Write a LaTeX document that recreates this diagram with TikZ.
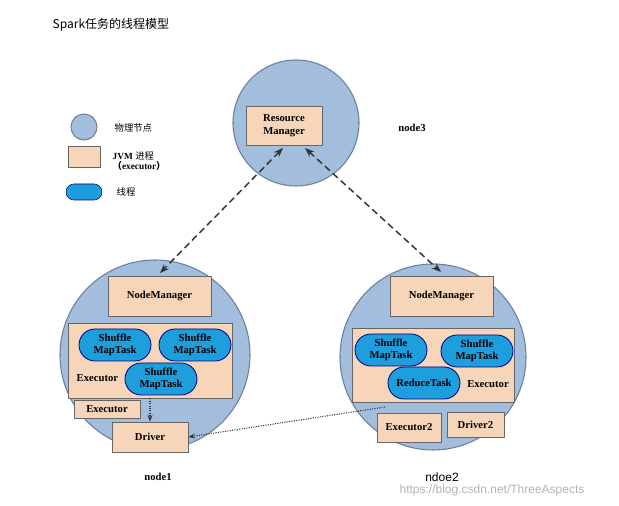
\documentclass[tikz,border=0pt]{standalone}
\usepackage{fontspec}
\setmainfont{Liberation Serif}
\newfontfamily\cjk{Noto Sans CJK SC}
\newfontfamily\sans{Liberation Sans}
\usetikzlibrary{arrows.meta,shapes.misc}
\definecolor{phys}{HTML}{A3BEDC}
\definecolor{jvm}{HTML}{F6D5B8}
\definecolor{thr}{HTML}{1F9EDD}
\definecolor{cb}{HTML}{6C7FA0}
\begin{document}
\begin{tikzpicture}[x=0.75pt,y=-0.75pt,
  phy/.style={circle,draw=cb,fill=phys,line width=0.8pt,inner sep=0pt},
  box/.style={draw=gray!80!black,fill=jvm,line width=0.6pt,font=\bfseries\footnotesize,align=center,inner sep=0pt},
  th/.style={rounded rectangle,draw=blue!50!black,fill=thr,line width=0.6pt,font=\bfseries\footnotesize,align=center,inner sep=0pt,minimum width=54pt,minimum height=24pt},
  lbl/.style={font=\bfseries\footnotesize},
  da/.style={dash pattern=on 5pt off 3pt,line width=1.1pt,gray!40!black,{Stealth[length=7pt]}-{Stealth[length=7pt]}},
  dt/.style={densely dotted,line width=0.8pt,gray!40!black,-{Stealth[length=5pt]}}]
\useasboundingbox (0,0) rectangle (619,506);
\node[anchor=west,font=\cjk\small] (title) at (48,25) {Spark任务的线程模型};
% legend
\node[phy,minimum size=26*0.75pt] (lc) at (84,127) {};
\node[anchor=west,font=\cjk\scriptsize] (lct) at (110,128) {物理节点};
\node[box,minimum width=24pt,minimum height=16pt] (lb) at (84,157) {};
\node[anchor=west,font=\scriptsize,align=left] (lbt) at (108,161) {\textbf{JVM} {\cjk 进程}\\\textbf{{\cjk（}executor{\cjk）}}};
\node[rounded rectangle,draw=blue!50!black,fill=thr,minimum width=27pt,minimum height=12pt,inner sep=0pt] (lo) at (84,192) {};
\node[anchor=west,font=\cjk\scriptsize] (lot) at (112,192) {线程};
% circles
\node[phy,minimum size=126*0.75pt] (c3) at (296,123) {};
\node[phy,minimum size=190*0.75pt] (c1) at (155,355) {};
\node[phy,minimum size=186*0.75pt] (c2) at (433,357) {};
% node3
\node[box,minimum width=76*0.75pt,minimum height=39*0.75pt] (rm) at (284,126) {Resource\\Manager};
\node[lbl] (n3) at (412,128) {node3};
% node1
\node[box,minimum width=103*0.75pt,minimum height=40*0.75pt] (nm1) at (159.5,296) {NodeManager};
\node[box,minimum width=164*0.75pt,minimum height=75*0.75pt] (ex1) at (150,360.5) {};
\node[lbl,anchor=west] (ex1t) at (72,378) {Executor};
\node[th] (s11) at (115,345) {Shuffle\\MapTask};
\node[th] (s12) at (195,345) {Shuffle\\MapTask};
\node[th] (s13) at (161,379) {Shuffle\\MapTask};
\node[box,minimum width=66*0.75pt,minimum height=18*0.75pt] (e1s) at (107,409) {Executor};
\node[box,minimum width=76*0.75pt,minimum height=30*0.75pt] (dr) at (150,437) {Driver};
\node[lbl] (n1) at (158,477) {node1};
% node2
\node[box,minimum width=103*0.75pt,minimum height=40*0.75pt] (nm2) at (441.5,296) {NodeManager};
\node[box,minimum width=162*0.75pt,minimum height=74*0.75pt] (ex2) at (433,365) {};
\node[th] (s21) at (391,350) {Shuffle\\MapTask};
\node[th] (s22) at (477,351) {Shuffle\\MapTask};
\node[th] (rt) at (424,383) {ReduceTask};
\node[lbl] (ex2t) at (488,384) {Executor};
\node[box,minimum width=64*0.75pt,minimum height=29*0.75pt] (e2) at (409,427.5) {Executor2};
\node[box,minimum width=57*0.75pt,minimum height=25*0.75pt] (d2) at (475.5,424.5) {Driver2};
\node[font=\sans\small] (n2) at (442,477) {ndoe2};
\node[font=\sans\small,text=gray!60] (wm) at (492,490) {https://blog.csdn.net/ThreeAspects};
% connectors
\coordinate (a1) at (283,148); \coordinate (b1) at (160,273);
\coordinate (a2) at (305,148); \coordinate (b2) at (441,272);
\draw[da] (a1) -- (b1);
\draw[da] (a2) -- (b2);
\draw[dt] (ex1.south -| dr.north) -- (dr.north);
\coordinate (f2) at (385,407);
\draw[dt] (f2) -- (dr.east);
\end{tikzpicture}
\end{document}
